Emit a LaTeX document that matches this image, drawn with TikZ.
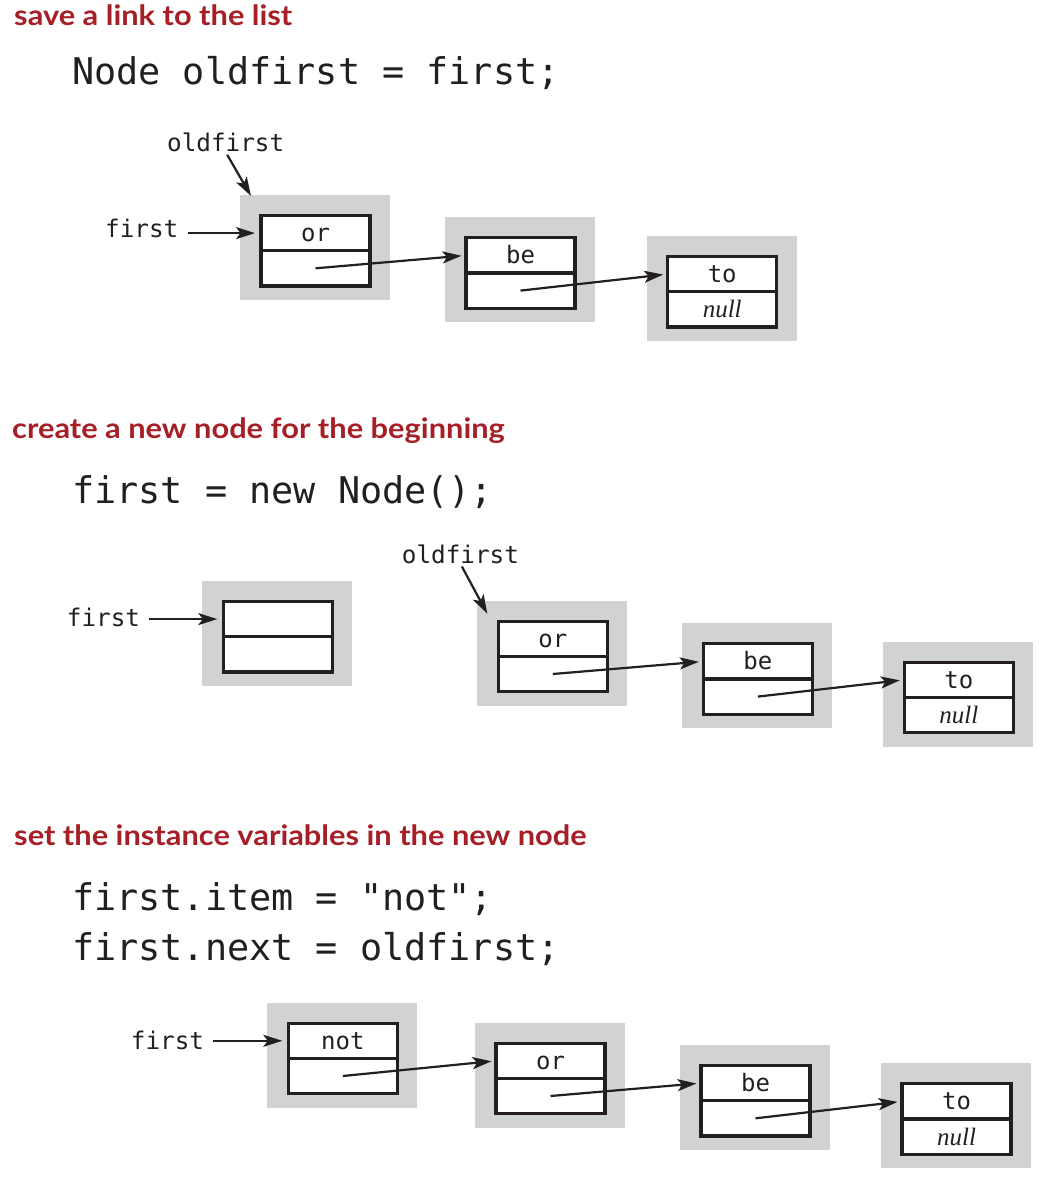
\documentclass[tikz,border=0pt]{standalone}
\usepackage{fontspec}
\setmonofont{DejaVu Sans Mono}
\newfontfamily\headfont{Lato}[FakeStretch=1.1]
\newfontfamily\nulltextfont{Liberation Serif}
\usetikzlibrary{arrows.meta,calc}
\definecolor{headred}{RGB}{166,30,38}
\definecolor{boxgray}{RGB}{209,210,212}
\definecolor{ink}{RGB}{35,31,32}
\tikzset{
  graybox/.style={fill=boxgray, draw=none, minimum width=150pt, minimum height=105pt, inner sep=0pt, outer sep=0pt, anchor=north west},
  cell/.style={draw=ink, line width=3.2pt, fill=white, minimum width=109pt, minimum height=35.2pt, inner sep=0pt, outer sep=0pt, text height=17pt, text depth=0pt, font=\ttfamily\fontsize{24}{24}\selectfont, text=ink},
  heading/.style={anchor=base west, inner sep=0pt, text=headred, font=\headfont\bfseries\fontsize{28}{28}\selectfont},
  code/.style={anchor=base west, inner sep=0pt, text=ink, font=\ttfamily\fontsize{36.8}{40}\selectfont},
  lbl/.style={anchor=base west, inner sep=0pt, text=ink, font=\ttfamily\fontsize{24.3}{24}\selectfont},
  ptr/.style={draw=ink, line width=2.2pt, -{Stealth[length=19pt,width=12pt,inset=4.5pt]}, shorten >=4.5pt},
}
\newcommand\lnode[5]{%
  \node[graybox] (#1) at (#2,#3) {};
  \node[cell, anchor=north west] (#1t) at ($(#1.north west)+(21,20.5)$) {#4};
  \node[cell, anchor=north] (#1b) at (#1t.south) {#5};
}
\newcommand\nullt{{\nulltextfont\itshape\fontsize{25}{25}\selectfont null}}
\begin{document}
\begin{tikzpicture}[x=1pt,y=-1pt]
\useasboundingbox (0,0) rectangle (1044,1182);

% ---------- part 1 ----------
\node[heading] (h1) at (14,26) {save a link to the list};
\node[code] (c1) at (72,85) {Node oldfirst = first;};
\lnode{a1}{240}{195}{or}{}
\lnode{b1}{445}{217.3}{be}{}
\lnode{d1}{646.7}{236}{to}{\nullt}
\node[lbl] (f1) at (105,237) {first};
\node[lbl] (o1) at (167,151.7) {oldfirst};
\coordinate (o1tip) at ($(a1.north west)+(11,1)$);
\draw[ptr, shorten >=0pt, shorten <=3pt] (o1.south) -- (o1tip);
\draw[ptr, shorten >=6pt, shorten <=9pt] (f1.east |- a1t.west) -- (a1t.west);
\draw[ptr] (a1b.center) -- (b1t.west);
\draw[ptr] (b1b.center) -- (d1t.west);

% ---------- part 2 ----------
\node[heading] (h2) at (12,438) {create a new node for the beginning};
\node[code] (c2) at (72,503) {first = new Node();};
\lnode{n2}{202.3}{581}{}{}
\lnode{a2}{477.3}{600.7}{or}{}
\lnode{b2}{682.3}{623.3}{be}{}
\lnode{d2}{883.3}{641.7}{to}{\nullt}
\node[lbl] (f2) at (66.7,626.7) {first};
\node[lbl] (o2) at (401.7,563.3) {oldfirst};
\coordinate (o2tip) at ($(a2.north west)+(10,13)$);
\draw[ptr, shorten >=0pt, shorten <=3pt] (o2.south) -- (o2tip);
\draw[ptr, shorten >=6pt, shorten <=9pt] (f2.east |- n2t.west) -- (n2t.west);
\draw[ptr] (a2b.center) -- (b2t.west);
\draw[ptr] (b2b.center) -- (d2t.west);

% ---------- part 3 ----------
\node[heading] (h3) at (14,845) {set the instance variables in the new node};
\node[code] (c3a) at (72,910) {first.item = "not";};
\node[code] (c3b) at (72,960) {first.next = oldfirst;};
\lnode{n3}{267.3}{1002.7}{not}{}
\lnode{a3}{475}{1022.7}{or}{}
\lnode{b3}{680}{1045}{be}{}
\lnode{d3}{881}{1063.3}{to}{\nullt}
\node[lbl] (f3) at (130.7,1049) {first};
\draw[ptr, shorten >=6pt, shorten <=9pt] (f3.east |- n3t.west) -- (n3t.west);
\draw[ptr] (n3b.center) -- (a3t.west);
\draw[ptr] (a3b.center) -- (b3t.west);
\draw[ptr] (b3b.center) -- (d3t.west);
\end{tikzpicture}
\end{document}
